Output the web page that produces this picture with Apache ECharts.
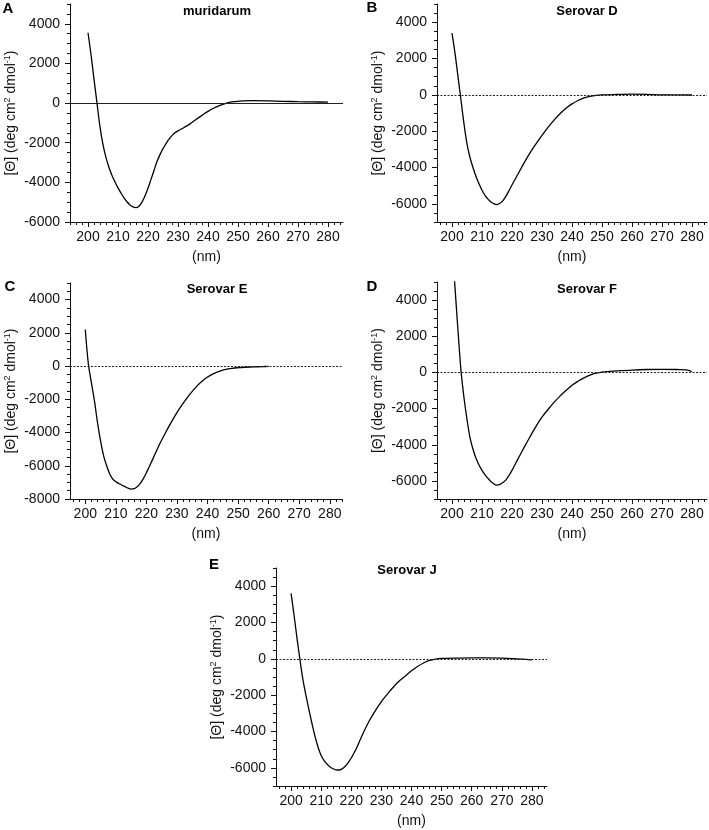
<!DOCTYPE html>
<html><head><meta charset="utf-8">
<script src="https://cdn.jsdelivr.net/npm/echarts@6/dist/echarts.min.js"></script>
<style>html,body{margin:0;padding:0;background:#fff}#c{width:709px;height:830px}</style>
</head><body><div id="c"></div>
<script>
// ---- Data (nm vs mean residue ellipticity) ----
const wlA  = [200,201,202,203,204,205,206,207,208,209,210,211,212,213,214,215,216,217,218,219,220,221,222,223,224,225,226,227,228,229,230,232,234,236,238,240,242,244,246,248,250,255,260,265,270,275,280];
const valA = [3550,2450,1200,0,-1200,-2100,-2750,-3250,-3650,-3980,-4280,-4540,-4780,-4980,-5140,-5240,-5270,-5200,-5000,-4680,-4300,-3850,-3400,-2950,-2600,-2300,-2050,-1820,-1640,-1500,-1400,-1230,-1050,-830,-620,-420,-250,-110,-10,60,90,120,110,90,70,60,50];

const wlB  = [200,201,202,203,204,205,206,207,208,209,210,211,212,213,214,215,216,217,218,219,220,222,224,226,228,230,232,234,236,238,240,242,244,246,248,250,255,260,265,270,275,280];
const valB = [3400,2300,1000,-300,-1600,-2700,-3450,-4000,-4500,-4900,-5250,-5530,-5740,-5900,-6000,-6040,-5970,-5820,-5580,-5280,-4960,-4360,-3760,-3200,-2700,-2230,-1790,-1390,-1040,-740,-500,-310,-170,-80,-25,0,20,40,30,0,0,-10];

const wlC  = [200,201,202,203,204,205,206,207,208,209,210,211,212,213,214,215,216,217,218,219,220,221,222,224,226,228,230,232,234,236,238,240,242,244,246,248,250,252,255,258,260];
const valC = [2200,150,-1000,-2100,-3400,-4500,-5400,-6000,-6500,-6800,-6960,-7070,-7170,-7260,-7350,-7400,-7380,-7260,-7060,-6770,-6420,-6030,-5630,-4820,-4100,-3420,-2800,-2250,-1750,-1310,-950,-660,-450,-300,-200,-140,-100,-70,-50,-30,-20];

const wlD  = [200,201,202,203,204,205,206,207,208,209,210,211,212,213,214,215,216,217,218,219,220,222,224,226,228,230,232,234,236,238,240,242,244,246,248,250,255,260,265,270,275,278,280];
const valD = [7000,4700,2300,100,-1400,-2600,-3600,-4250,-4750,-5120,-5420,-5660,-5860,-6040,-6170,-6230,-6190,-6090,-5940,-5700,-5420,-4780,-4160,-3560,-2980,-2470,-2050,-1660,-1310,-1000,-710,-490,-300,-150,-40,20,80,130,160,170,160,140,50];

const wlE  = [200,201,202,203,204,205,206,207,208,209,210,211,212,213,214,215,216,217,218,219,220,221,222,224,226,228,230,232,234,236,238,240,242,244,246,248,250,255,260,265,270,275,278,280];
const valE = [3600,2400,1100,-100,-1200,-2050,-2850,-3600,-4300,-4880,-5320,-5600,-5800,-5950,-6050,-6110,-6120,-6050,-5910,-5710,-5460,-5160,-4820,-4070,-3410,-2850,-2350,-1940,-1550,-1210,-940,-660,-420,-230,-90,-15,20,40,50,50,40,0,-30,-60];

// ---- Ticks / labels ----
const xTickLabels = [200,210,220,230,240,250,260,270,280];
const yTickLabels6 = [-6000,-4000,-2000,0,2000,4000];
const yTickLabels8 = [-8000,-6000,-4000,-2000,0,2000,4000];
const panelLetters = ['A','B','C','D','E'];
const panelTitles = ['muridarum','Serovar D','Serovar E','Serovar F','Serovar J'];
const xAxisName = '(nm)';
const yAxisName = '[Θ] (deg cm{sup|2} dmol{sup|-1})';

// ---- Layout ----
const panels = [
  {wl: wlA, val: valA, grid:{left:70, top:4, width:273, height:218}, xMin:194, xMax:285, yMin:-6000, yMax:5000, yLab:yTickLabels6, dashed:false,
   letterPos:[8,9], titlePos:[217,11]},
  {wl: wlB, val: valB, grid:{left:437, top:4, width:270, height:218}, xMin:195, xMax:285, yMin:-7000, yMax:5000, yLab:yTickLabels6, dashed:true,
   letterPos:[372,8], titlePos:[587,11]},
  {wl: wlC, val: valC, grid:{left:70, top:283, width:272, height:216}, xMin:195, xMax:284, yMin:-8000, yMax:5000, yLab:yTickLabels8, dashed:true,
   letterPos:[10,287], titlePos:[217,289]},
  {wl: wlD, val: valD, grid:{left:437, top:282, width:270, height:217}, xMin:195, xMax:285, yMin:-7000, yMax:5000, yLab:yTickLabels6, dashed:true,
   letterPos:[372,287], titlePos:[587,289]},
  {wl: wlE, val: valE, grid:{left:276, top:568, width:271, height:218}, xMin:195, xMax:285, yMin:-7000, yMax:5000, yLab:yTickLabels6, dashed:true,
   letterPos:[214,565], titlePos:[407,570]}
];

const FONT = '"Liberation Sans", Arial, Helvetica, sans-serif';
const INK = '#111';
const plain = v => String(v);

function range(a, b, step){ const r=[]; for(let v=a; v<=b+1e-9; v+=step) r.push(v); return r; }

const grids=[], xAxes=[], yAxes=[], series=[], graphics=[];
panels.forEach((p, i) => {
  grids.push(Object.assign({containLabel:false}, p.grid));
  const minorX = range(Math.ceil(p.xMin/2)*2, p.xMax, 2);
  const minorY = range(p.yMin, p.yMax, 500);
  xAxes.push({
    type:'value', gridIndex:i, min:p.xMin, max:p.xMax, position:'bottom',
    axisLine:{show:true, onZero:false, lineStyle:{color:INK, width:1}},
    axisTick:{show:true, customValues:xTickLabels, length:5, lineStyle:{color:INK}},
    axisLabel:{show:true, customValues:xTickLabels, formatter:plain, color:INK, fontFamily:FONT, fontSize:14, margin:8},
    splitLine:{show:false},
    name:xAxisName, nameLocation:'middle', nameGap:28,
    nameTextStyle:{color:INK, fontFamily:FONT, fontSize:14}
  });
  xAxes.push({
    type:'value', gridIndex:i, min:p.xMin, max:p.xMax, position:'bottom',
    axisLine:{show:false, onZero:false},
    axisTick:{show:true, customValues:minorX, length:3, lineStyle:{color:INK}},
    axisLabel:{show:false}, splitLine:{show:false}
  });
  yAxes.push({
    type:'value', gridIndex:i, min:p.yMin, max:p.yMax, position:'left',
    axisLine:{show:true, onZero:false, lineStyle:{color:INK, width:1}},
    axisTick:{show:true, customValues:p.yLab, length:5, lineStyle:{color:INK}},
    axisLabel:{show:true, customValues:p.yLab, formatter:plain, color:INK, fontFamily:FONT, fontSize:14, margin:10},
    splitLine:{show:false},
    name:yAxisName, nameLocation:'middle', nameGap:50,
    nameTextStyle:{color:INK, fontFamily:FONT, fontSize:14,
      rich:{sup:{fontSize:9, fontFamily:FONT, color:INK, padding:[0,0,8,0]}}}
  });
  yAxes.push({
    type:'value', gridIndex:i, min:p.yMin, max:p.yMax, position:'left',
    axisLine:{show:false, onZero:false},
    axisTick:{show:true, customValues:minorY, length:3, lineStyle:{color:INK}},
    axisLabel:{show:false}, splitLine:{show:false}
  });
  series.push({
    type:'line', xAxisIndex:2*i, yAxisIndex:2*i,
    data:p.wl.map((w, k) => [w, p.val[k]]),
    showSymbol:false, smooth:0.35, clip:true,
    lineStyle:{color:'#000', width:1.3},
    markLine:{
      silent:true, symbol:['none','none'], label:{show:false},
      lineStyle:{color:'#222', width:1, type: p.dashed ? [2,1.5] : 'solid'},
      data:[{yAxis:0}]
    },
    z:3
  });
  graphics.push({type:'text', style:{x:p.letterPos[0], y:p.letterPos[1], text:panelLetters[i],
    font:'bold 15px ' + FONT, fill:'#000', align:'center', verticalAlign:'middle', textAlign:'center', textVerticalAlign:'middle'}});
  graphics.push({type:'text', style:{x:p.titlePos[0], y:p.titlePos[1], text:panelTitles[i],
    font:'bold 13px ' + FONT, fill:'#000', align:'center', verticalAlign:'middle', textAlign:'center', textVerticalAlign:'middle'}});
});

const chart = echarts.init(document.getElementById('c'), null, {renderer:'canvas'});
chart.setOption({
  animation:false,
  backgroundColor:'#fff',
  grid:grids, xAxis:xAxes, yAxis:yAxes, series:series,
  graphic:{elements:graphics}
});
</script>
</body></html>
